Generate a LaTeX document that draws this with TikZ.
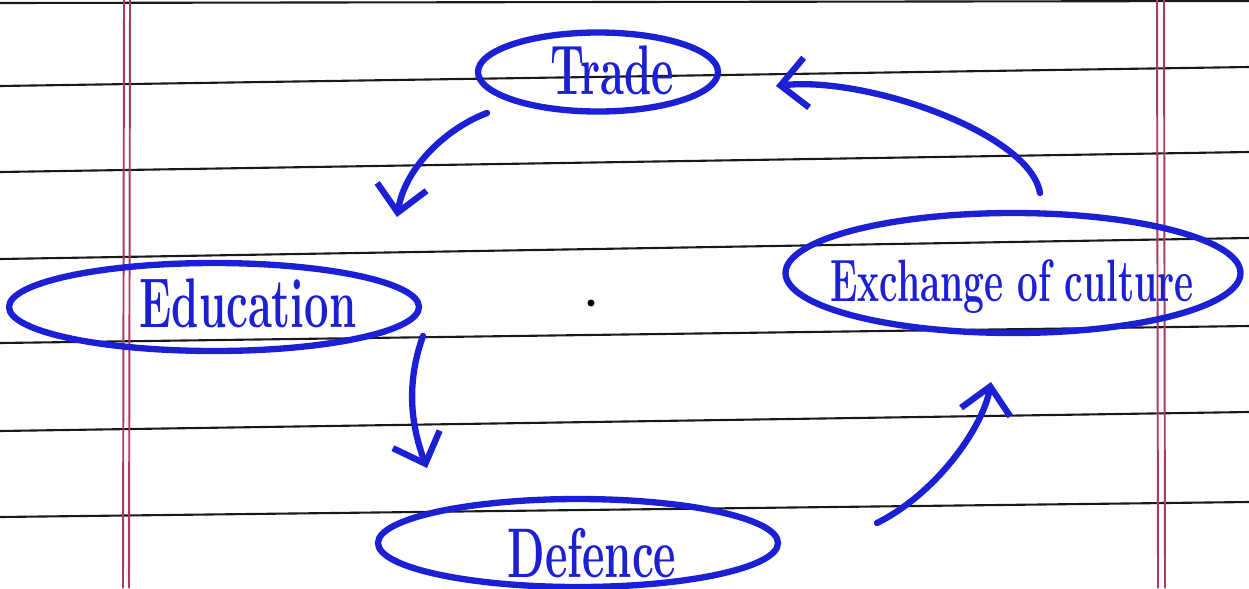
\documentclass[tikz,border=0pt]{standalone}
\usepackage{graphicx}
\usetikzlibrary{shapes.geometric,arrows.meta,calc}
\definecolor{ink}{RGB}{28,32,212}
\definecolor{rulecol}{RGB}{25,25,25}
\definecolor{margincol}{RGB}{170,60,90}
\tikzset{
 ring/.style={draw=ink, line width=1.8pt, ellipse, inner sep=0pt},
 word/.style={text=ink, font=\fontsize{20}{24}\selectfont\bfseries, inner sep=0pt},
 arr/.style={draw=ink, line width=1.8pt, line cap=round, -{Straight Barb[length=2.6mm,width=5mm,line width=1.8pt]}},
 paperline/.style={draw=rulecol, line width=0.6pt},
 marginline/.style={draw=margincol, line width=0.55pt}
}
\newcommand\hw[1]{\scalebox{0.62}[1]{#1}}
\begin{document}
\begin{tikzpicture}[x=0.1mm,y=-0.1mm]
\useasboundingbox (0,0) rectangle (1249,588);
\fill[white] (0,0) rectangle (1249,588);
% ruled paper
\draw[paperline] (0,3) -- (1249,1);
\draw[paperline] (0,86) -- (1249,67);
\draw[paperline] (0,172) -- (1249,152);
\draw[paperline] (0,259) -- (1249,238);
\draw[paperline] (0,343) -- (1249,326);
\draw[paperline] (0,431) -- (1249,412);
\draw[paperline] (0,517) -- (1249,502);
\draw[marginline] (124,0) -- (123,588);
\draw[marginline] (130,0) -- (129,588);
\draw[marginline] (1157,0) -- (1158,588);
\draw[marginline] (1164,0) -- (1165,588);
% nodes
\node[ring, minimum width=24mm, minimum height=7.9mm] (tradeE) at (598,72) {};
\node[word] (trade) at (612,70) {\hw{Trade}};
\node[ring, minimum width=41mm, minimum height=8.8mm] (eduE) at (214,307) {};
\node[word] (edu) at (248,303) {\hw{Education}};
\node[ring, minimum width=45.5mm, minimum height=12mm] (exchE) at (1013,273) {};
\node[word, font=\fontsize{17}{20}\selectfont\bfseries] (exch) at (1012,287) {\hw{Exchange of culture}};
\node[ring, minimum width=40mm, minimum height=8.8mm] (defE) at (578,543) {};
\node[word] (def) at (592,553) {\hw{Defence}};
% connector ends
\coordinate (a1s) at ($(tradeE.center)+(-111,41)$);
\coordinate (a1e) at ($(eduE.center)+(183,-90)$);
\coordinate (a2s) at ($(exchE.center)+(27,-80)$);
\coordinate (a2e) at ($(tradeE.center)+(178,14)$);
\coordinate (a3s) at ($(eduE.center)+(209,29)$);
\coordinate (a3e) at ($(defE.center)+(-151,-75)$);
\coordinate (a4s) at ($(defE.center)+(299,-20)$);
\coordinate (a4e) at ($(exchE.center)+(-22,109)$);
% connectors
\draw[arr] (a1s) .. controls +(-40,15) and +(8,-50) .. (a1e);
\draw[arr] (a2s) .. controls +(-10,-60) and +(90,-10) .. (a2e);
\draw[arr] (a3s) .. controls +(-18,50) and +(-15,-40) .. (a3e);
\draw[arr] (a4s) .. controls +(60,-30) and +(-8,45) .. (a4e);
\fill (591,303) circle[radius=0.35mm];
\end{tikzpicture}
\end{document}
